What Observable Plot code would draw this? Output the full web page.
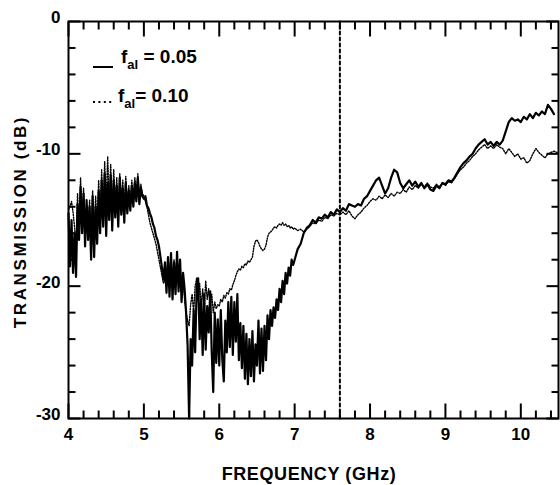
<!DOCTYPE html>
<html><head><meta charset="utf-8">
<script src="https://cdn.jsdelivr.net/npm/d3@7"></script>
<script src="https://cdn.jsdelivr.net/npm/@observablehq/plot@0.6"></script>
<style>body{margin:0;background:#fff}</style>
</head><body><div id="chart"></div>
<script>
// ---- data ----
const freqFine = [4.00,4.02,4.04,4.06,4.08,4.10,4.12,4.14,4.16,4.18,4.20,4.22,4.24,4.26,4.28,4.30,4.32,4.34,4.36,4.38,
4.40,4.42,4.44,4.46,4.48,4.50,4.52,4.54,4.56,4.58,4.60,4.62,4.64,4.66,4.68,4.70,4.72,4.74,4.76,4.78,
4.80,4.82,4.84,4.86,4.88,4.90,4.92,4.94,4.96,4.98,5.00,5.02,5.04,5.06,5.08,5.10,5.12,5.14,5.16,5.18,
5.20,5.22,5.24,5.26,5.28,5.30,5.32,5.34,5.36,5.38,5.40,5.42,5.44,5.46,5.48,5.50,5.52,5.54,5.56,5.58,
5.60,5.62,5.64,5.66,5.68,5.70,5.72,5.74,5.76,5.78,5.80,5.82,5.84,5.86,5.88,5.90,5.92,5.94,5.96,5.98,
6.00,6.02,6.04,6.06,6.08,6.10,6.12,6.14,6.16,6.18,6.20,6.22,6.24,6.26,6.28,6.30,6.32,6.34,6.36,6.38,
6.40,6.42,6.44,6.46,6.48,6.50,6.52,6.54,6.56,6.58,6.60,6.62,6.64,6.66,6.68,6.70,6.72,6.74,6.76,6.78,
6.80,6.82,6.84,6.86,6.88,6.90,6.92,6.94,6.96,6.98];
const freqCoarse = [7.00,7.04,7.08,7.12,7.16,7.20,7.24,7.28,7.32,7.36,7.40,7.44,7.48,7.52,7.56,7.60,7.64,7.68,7.72,7.76,
7.80,7.84,7.88,7.92,7.96,8.00,8.04,8.08,8.12,8.16,8.20,8.24,8.28,8.32,8.36,8.40,8.44,8.48,8.52,8.56,
8.60,8.64,8.68,8.72,8.76,8.80,8.84,8.88,8.92,8.96,9.00,9.04,9.08,9.12,9.16,9.20,9.24,9.28,9.32,9.36,
9.40,9.44,9.48,9.52,9.56,9.60,9.64,9.68,9.72,9.76,9.80,9.84,9.88,9.92,9.96,10.00,10.04,10.08,10.12,10.16,
10.20,10.24,10.28,10.32,10.36,10.40,10.44,10.48];

// f_al = 0.05 (solid)
const db05Fine = [
-14.5,-18.5,-15.0,-19.0,-16.0,-19.3,-13.8,-16.5,-12.5,-16.0,
-13.0,-17.0,-13.5,-16.5,-14.0,-18.0,-13.2,-17.8,-14.0,-16.8,
-12.8,-16.0,-12.0,-15.5,-11.5,-16.2,-12.2,-15.0,-11.6,-15.8,
-12.0,-14.8,-12.4,-15.5,-11.8,-14.6,-12.6,-15.2,-12.2,-14.5,
-12.8,-14.3,-12.4,-14.0,-12.2,-13.6,-11.8,-13.8,-12.6,-13.2,
-13.4,-13.2,-13.9,-14.1,-14.5,-14.8,-15.3,-15.6,-16.2,-16.5,
-17.0,-17.8,-18.6,-19.5,-18.2,-20.5,-17.8,-20.8,-17.5,-21.0,
-18.2,-20.6,-17.4,-20.4,-18.0,-21.2,-19.0,-20.2,-22.0,-24.5,
-30.0,-24.0,-26.0,-21.8,-25.0,-20.2,-19.4,-24.0,-21.0,-25.2,
-20.6,-24.8,-21.5,-23.5,-20.4,-25.0,-28.0,-22.0,-25.8,-22.5,
-26.0,-21.8,-25.5,-27.2,-22.6,-25.0,-21.2,-24.6,-20.8,-25.2,
-21.2,-24.2,-20.6,-25.6,-22.8,-26.2,-23.0,-27.0,-23.6,-27.4,
-24.0,-26.8,-23.4,-27.2,-24.4,-26.0,-22.6,-26.6,-23.2,-26.4,
-23.0,-25.6,-22.2,-24.0,-21.8,-23.0,-21.6,-22.4,-21.0,-21.8,
-20.2,-21.2,-19.6,-20.6,-19.0,-19.8,-18.6,-19.2,-18.0,-18.4];
const db05Coarse = [
-18.0,-17.2,-16.8,-16.0,-15.6,-15.4,-15.0,-15.2,-14.8,-14.9,
-14.6,-14.8,-14.4,-14.6,-14.2,-14.4,-14.1,-14.3,-13.8,-13.9,
-14.0,-13.8,-13.9,-13.4,-13.2,-12.8,-12.4,-12.0,-11.8,-12.4,
-13.0,-12.6,-11.8,-11.2,-11.4,-12.2,-12.6,-12.3,-12.0,-12.4,
-12.1,-12.5,-12.2,-12.6,-12.3,-12.7,-12.8,-12.4,-12.6,-12.2,
-12.3,-12.0,-12.1,-11.8,-11.4,-11.0,-10.7,-10.5,-10.2,-10.0,
-9.6,-9.3,-9.1,-8.9,-9.3,-9.1,-9.4,-9.1,-9.3,-9.0,
-8.3,-7.6,-7.3,-7.5,-7.4,-7.6,-7.2,-7.4,-7.0,-7.3,
-6.9,-7.1,-6.8,-7.0,-6.3,-6.6,-7.0];

// f_al = 0.10 (dotted)
const db10Fine = [
-14.2,-14.0,-13.6,-14.4,-15.5,-17.0,-13.0,-15.8,-11.8,-15.0,
-12.6,-15.8,-13.8,-15.2,-13.5,-16.5,-12.8,-16.0,-13.2,-15.6,
-12.0,-15.0,-11.2,-14.6,-10.6,-13.8,-10.2,-14.0,-10.8,-14.4,
-11.2,-13.8,-11.8,-14.4,-11.5,-13.6,-12.0,-14.2,-11.7,-13.8,
-12.4,-13.6,-12.0,-13.4,-11.8,-13.0,-11.5,-13.2,-12.3,-13.0,
-13.2,-13.6,-14.0,-14.6,-15.2,-15.6,-16.0,-16.4,-16.8,-17.4,
-18.0,-18.6,-19.2,-19.8,-19.5,-20.0,-18.4,-19.6,-17.8,-20.2,
-18.0,-19.6,-17.6,-20.0,-18.2,-20.6,-19.6,-21.0,-22.0,-22.6,
-23.0,-21.4,-20.6,-22.0,-20.0,-19.4,-21.2,-19.8,-21.6,-20.2,
-21.8,-19.6,-21.0,-20.2,-21.6,-20.6,-22.0,-21.2,-21.7,-21.4,
-21.5,-21.0,-21.2,-20.7,-20.9,-20.5,-20.6,-20.2,-20.3,-19.9,
-19.6,-19.2,-18.9,-18.7,-18.8,-18.5,-18.6,-18.3,-18.4,-18.1,
-18.2,-18.0,-17.8,-17.0,-16.6,-16.5,-16.7,-17.0,-17.2,-17.3,
-17.2,-16.9,-16.3,-16.0,-15.9,-15.8,-15.6,-15.5,-15.6,-15.4,
-15.3,-15.4,-15.2,-15.4,-15.3,-15.5,-15.4,-15.6,-15.5,-15.7];
const db10Coarse = [
-15.6,-15.8,-15.7,-15.9,-15.7,-15.5,-15.2,-15.3,-15.0,-15.1,
-14.8,-14.9,-14.6,-14.7,-14.5,-14.6,-14.4,-14.6,-14.3,-14.7,
-14.9,-14.6,-14.4,-14.1,-13.9,-13.6,-13.4,-13.5,-13.2,-13.4,
-13.1,-13.3,-13.0,-13.2,-12.9,-13.0,-12.7,-12.9,-12.5,-12.7,
-12.4,-12.6,-12.3,-12.5,-12.2,-12.5,-12.6,-12.3,-12.5,-12.2,
-12.4,-12.1,-12.2,-11.9,-11.5,-11.2,-11.0,-10.7,-10.5,-10.2,
-10.0,-9.7,-9.5,-9.3,-9.6,-9.4,-9.6,-9.3,-9.5,-9.6,
-10.0,-9.6,-9.9,-10.2,-10.0,-10.4,-10.3,-10.7,-10.5,-10.0,
-9.6,-9.9,-10.1,-10.3,-10.0,-9.9,-9.8,-9.9];

const xLabels = [4,5,6,7,8,9,10];
const xMinor = [4.2,4.4,4.6,4.8,5.2,5.4,5.6,5.8,6.2,6.4,6.6,6.8,7.2,7.4,7.6,7.8,8.2,8.4,8.6,8.8,9.2,9.4,9.6,9.8,10.2,10.4];
const yLabels = [0,-10,-20,-30];
const yMinor = [-2,-4,-6,-8,-12,-14,-16,-18,-22,-24,-26,-28];
const markerFreq = [7.6];
const seriesLabels = ["0.05","0.10"];

// ---- build tables ----
const toRows = (fs, vs) => vs.map((v, i) => ({f: fs[i], db: v}));
const solid = toRows(freqFine, db05Fine).concat(toRows(freqCoarse, db05Coarse));
const dotted = toRows(freqFine, db10Fine).concat(toRows(freqCoarse, db10Coarse));

const W = 560, H = 485, mL = 68, mR = 2, mT = 21, mB = 67;
const iW = W - mL - mR, iH = H - mT - mB;
const X0 = 4, X1 = 10.5, Y0 = -30, Y1 = 0;
const FONT = "'Liberation Sans Narrow','Arial Narrow','Liberation Sans',Arial,sans-serif";
// tick lengths in pixels, converted to data units so ticks go through the scales
const pxY = px => px * (Y1 - Y0) / iH;
const pxX = px => px * (X1 - X0) / iW;
// each tick = a 2-point segment, drawn as a grouped line (path elements)
const tickRows = [];
let tid = 0;
const addX = (vals, len) => vals.forEach(v => {
  tickRows.push({x: v, y: Y0, k: tid}, {x: v, y: Y0 + pxY(len), k: tid}); tid++;
  tickRows.push({x: v, y: Y1, k: tid}, {x: v, y: Y1 - pxY(len), k: tid}); tid++;
});
const addY = (vals, len) => vals.forEach(v => {
  tickRows.push({x: X0, y: v, k: tid}, {x: X0 + pxX(len), y: v, k: tid}); tid++;
  tickRows.push({x: X1, y: v, k: tid}, {x: X1 - pxX(len), y: v, k: tid}); tid++;
});
addX(xLabels, 15); addX(xMinor, 8); addY(yLabels, 12); addY(yMinor, 7);
const markerRows = markerFreq.flatMap((v, i) => [{x: v, y: Y0, k: i}, {x: v, y: Y1, k: i}]);

const chart = Plot.plot({
  width: W, height: H,
  marginLeft: mL, marginRight: mR, marginTop: mT, marginBottom: mB,
  style: {fontFamily: FONT, fontWeight: "bold", color: "#000", background: "#fff", overflow: "visible"},
  x: {domain: [X0, X1]},
  y: {domain: [Y0, Y1]},
  marks: [
    Plot.axisX(xLabels, {tickSize: 0, tickPadding: 9, tickFormat: d => String(d), label: null, fontSize: 17, fontWeight: "bold"}),
    Plot.axisY(yLabels, {tickSize: 0, tickPadding: 8, tickFormat: d => String(d), label: null, fontSize: 17, fontWeight: "bold", dy: -4}),
    Plot.line(markerRows, {x: "x", y: "y", z: "k", stroke: "#000", strokeWidth: 2, strokeDasharray: "3,3"}),
    Plot.line(solid, {x: "f", y: "db", stroke: "#000", strokeWidth: 2.2}),
    Plot.line(dotted, {x: "f", y: "db", stroke: "#000", strokeWidth: 1.4, strokeDasharray: "1.2,1.5"}),
    Plot.line(tickRows, {x: "x", y: "y", z: "k", stroke: "#000", strokeWidth: 2, strokeLinecap: "butt"}),
    Plot.frame({stroke: "#000", strokeWidth: 2})
  ]
});
document.getElementById("chart").appendChild(chart);

// ---- titles and in-plot legend ----
const svg = d3.select(chart);
svg.append("text")
  .attr("transform", `translate(22,${mT + iH / 2 + 2}) rotate(-90)`)
  .attr("text-anchor", "middle").attr("dominant-baseline", "middle")
  .style("font-family", FONT).style("font-weight", "bold").style("font-size", "17px")
  .style("letter-spacing", "2.6px").attr("fill", "#000")
  .text("TRANSMISSION (dB)");
svg.append("text")
  .attr("x", mL + iW / 2 - 4).attr("y", 480)
  .attr("text-anchor", "middle")
  .style("font-family", FONT).style("font-weight", "bold").style("font-size", "18px")
  .style("letter-spacing", "0.6px").attr("fill", "#000")
  .text("FREQUENCY (GHz)");

const legend = [
  {label: seriesLabels[0], eq: " = ", dash: null, x: 121, y: 63, ly: 67},
  {label: seriesLabels[1], eq: "= ", dash: "2,3.4", x: 118, y: 102, ly: 102}
];
legend.forEach(d => {
  svg.append("line").attr("x1", 93).attr("x2", 113).attr("y1", d.ly).attr("y2", d.ly)
    .attr("stroke", "#000").attr("stroke-width", 2).attr("stroke-dasharray", d.dash);
  const t = svg.append("text").attr("x", d.x).attr("y", d.y).attr("text-anchor", "start")
    .style("font-family", FONT).style("font-weight", "bold").style("font-size", "19px").attr("fill", "#000");
  t.append("tspan").text("f");
  t.append("tspan").attr("dy", 6).style("font-size", "13px").text("al");
  t.append("tspan").attr("dy", -6).text(d.eq + d.label);
});
</script>
</body></html>
